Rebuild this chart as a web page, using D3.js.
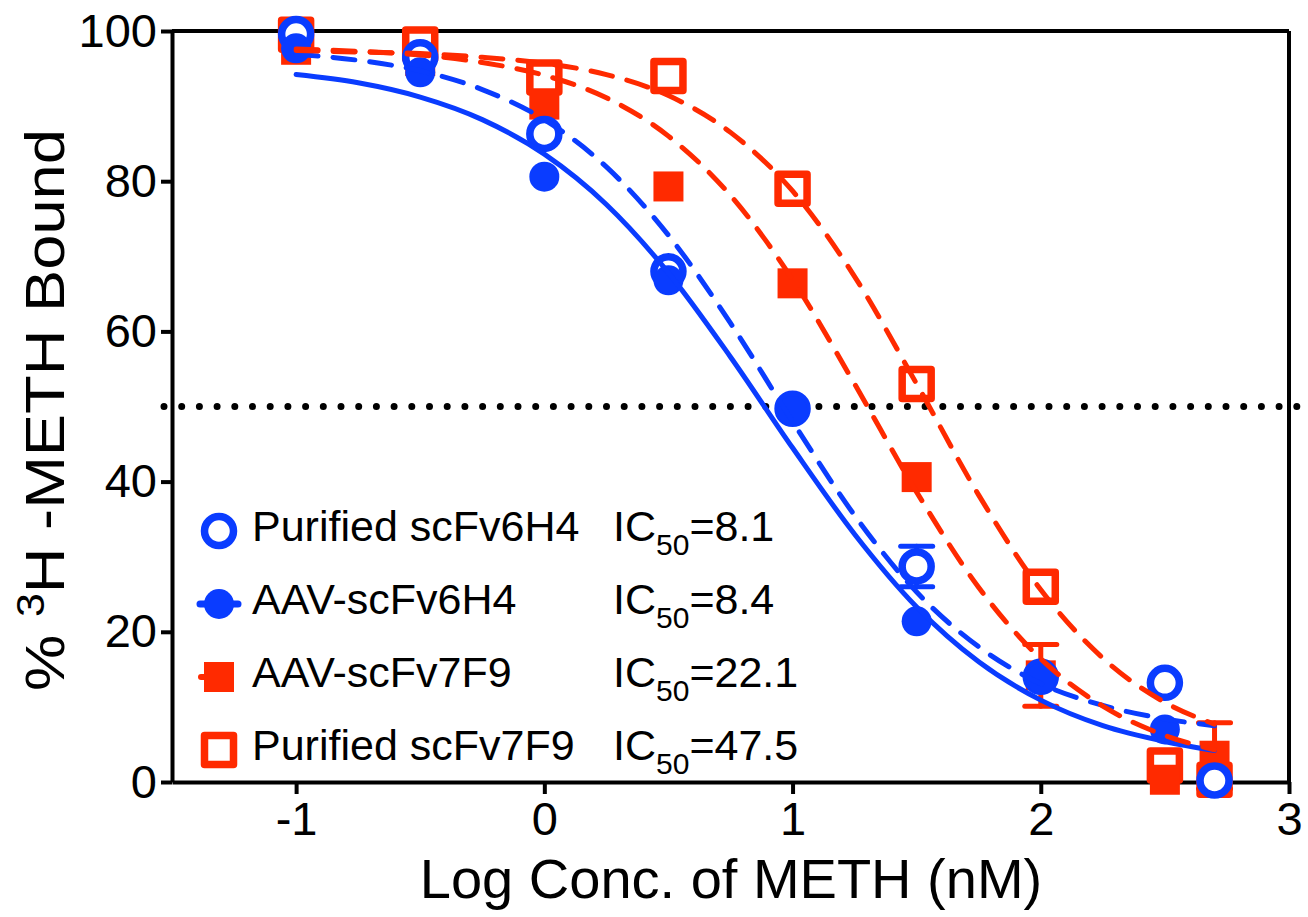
<!DOCTYPE html>
<html>
<head>
<meta charset="utf-8">
<script src="https://cdn.jsdelivr.net/npm/d3@7"></script>
<style>
  html, body { margin: 0; padding: 0; background: #fff; }
  svg { display: block; font-family: "Liberation Sans", Arial, Helvetica, sans-serif; }
</style>
</head>
<body>
<svg id="chart" width="1308" height="917"></svg>
<script>
// ---------- data ----------
const xTicks = [-1, 0, 1, 2, 3];
const yTicks = [0, 20, 40, 60, 80, 100];
const logConc = [-1, -0.5, 0, 0.5, 1, 1.5, 2, 2.5, 2.7];

const purified6H4 = [99.6, 96.5, 86.3, 68.0, 49.7, 28.7, 14.0, 13.2, 0.2];
const purified6H4Err = [0, 0, 0, 0, 0, 2.7, 0, 0, 0];
const aav6H4 = [97.7, 94.5, 80.6, 66.8, 49.4, 21.4, 13.8, 7.0, null];
const aav6H4Err = [0, 0, 0, 0, 0, 0, 0, 0, 0];
const aav7F9 = [97.5, 96.0, 90.2, 79.3, 66.4, 40.6, 14.2, 0.3, 3.5];
const aav7F9Err = [0, 0, 0, 0, 0, 0, 4.1, 0, 4.4];
const purified7F9 = [99.5, 98.2, 93.8, 94.0, 79.0, 53.0, 26.0, 2.2, 0.3];
const purified7F9Err = [0, 0, 0, 0, 0, 0, 0, 0, 0];

// fitted curves
const curveX = [-1, -0.75, -0.5, -0.25, 0, 0.25, 0.5, 0.75, 1, 1.25, 1.5, 1.75, 2, 2.25, 2.5, 2.7];
const fitPurified6H4 = [94.2, 93.1, 91.2, 88.2, 83.6, 76.9, 67.8, 56.6, 44.5, 33.0, 23.3, 16.0, 10.9, 7.5, 5.4, 4.2];
const fitAAV6H4 = [96.9, 96.1, 94.7, 92.2, 88.2, 81.9, 72.8, 61.1, 48.0, 35.5, 25.3, 18.0, 13.1, 10.2, 8.4, 7.5];
const fitAAV7F9 = [97.6, 97.3, 96.8, 95.8, 94.1, 91.1, 86.0, 78.1, 66.9, 53.0, 38.6, 25.9, 16.4, 10.1, 6.2, 4.3];
const fitPurified7F9 = [97.4, 97.2, 97.0, 96.5, 95.7, 94.2, 91.4, 86.5, 78.7, 67.3, 53.0, 38.2, 25.6, 16.5, 10.6, 7.7];

const referenceLevel = 50;

const legendNames = ["Purified scFv6H4", "AAV-scFv6H4", "AAV-scFv7F9", "Purified scFv7F9"];
const legendIC50 = ["8.1", "8.4", "22.1", "47.5"];

// ---------- styles ----------
const BLUE = "#0a3cff";
const RED = "#ff2a00";

const svg = d3.select("#chart");
const x = d3.scaleLinear().domain([-1.5, 3]).range([172, 1289]);
const y = d3.scaleLinear().domain([0, 100]).range([782, 31]);

// ---------- axes ----------
const xAxis = d3.axisBottom(x).tickValues(xTicks).tickSize(12).tickSizeOuter(0).tickPadding(8)
  .tickFormat(d => String(d));
const yAxis = d3.axisLeft(y).tickValues(yTicks).tickSize(11).tickSizeOuter(0).tickPadding(4)
  .tickFormat(d => String(d));

// frame top and right
svg.append("line").attr("x1", x(-1.5)).attr("x2", x(3)).attr("y1", y(100)).attr("y2", y(100))
  .attr("stroke", "#000").attr("stroke-width", 4);
svg.append("line").attr("x1", x(3)).attr("x2", x(3)).attr("y1", y(100)).attr("y2", y(0))
  .attr("stroke", "#000").attr("stroke-width", 4);

const gx = svg.append("g").attr("transform", `translate(0,${y(0)})`).call(xAxis);
const gy = svg.append("g").attr("transform", `translate(${x(-1.5)},0)`).call(yAxis);
[gx, gy].forEach(g => {
  g.select(".domain").attr("stroke", "#000").attr("stroke-width", 4);
  g.selectAll(".tick line").attr("stroke", "#000").attr("stroke-width", 4);
  g.selectAll(".tick text").attr("fill", "#000").attr("font-size", 47)
    .attr("font-family", '"Liberation Sans", Arial, sans-serif');
});

// dotted reference line at 50%
svg.append("line")
  .attr("x1", x(-1.5) - 8).attr("x2", x(3) + 8)
  .attr("y1", y(referenceLevel)).attr("y2", y(referenceLevel))
  .attr("stroke", "#000").attr("stroke-width", 7)
  .attr("stroke-linecap", "round").attr("stroke-dasharray", "0,17.7");

// ---------- markers ----------
const plot = svg.append("g");

function errorBars(vals, errs, color) {
  logConc.forEach((c, i) => {
    if (vals[i] == null || !errs[i]) return;
    const cx = x(c), top = y(vals[i] + errs[i]), bot = y(vals[i] - errs[i]);
    const g = plot.append("g").attr("stroke", color).attr("stroke-width", 5).attr("stroke-linecap", "round");
    g.append("line").attr("x1", cx).attr("x2", cx).attr("y1", top).attr("y2", bot);
    g.append("line").attr("x1", cx - 16).attr("x2", cx + 16).attr("y1", top).attr("y2", top);
    g.append("line").attr("x1", cx - 16).attr("x2", cx + 16).attr("y1", bot).attr("y2", bot);
  });
}

function pts(vals) {
  return logConc.map((c, i) => ({ c, v: vals[i] })).filter(d => d.v != null);
}

// purified 7F9 : open red square
errorBars(purified7F9, purified7F9Err, RED);
plot.selectAll(".p7").data(pts(purified7F9)).enter().append("rect")
  .attr("x", d => x(d.c) - 14.5).attr("y", d => y(d.v) - 14.5)
  .attr("width", 29).attr("height", 29)
  .attr("fill", "#fff").attr("stroke", RED).attr("stroke-width", 7.5).attr("stroke-linejoin", "round");

// AAV 7F9 : filled red square
errorBars(aav7F9, aav7F9Err, RED);
plot.selectAll(".a7").data(pts(aav7F9)).enter().append("rect")
  .attr("x", d => x(d.c) - 15).attr("y", d => y(d.v) - 15)
  .attr("width", 30).attr("height", 30).attr("fill", RED);

// purified 6H4 : open blue circle
errorBars(purified6H4, purified6H4Err, BLUE);
plot.selectAll(".p6").data(pts(purified6H4)).enter().append("circle")
  .attr("cx", d => x(d.c)).attr("cy", d => y(d.v)).attr("r", 14.5)
  .attr("fill", "#fff").attr("stroke", BLUE).attr("stroke-width", 7.5);

// AAV 6H4 : filled blue circle
errorBars(aav6H4, aav6H4Err, BLUE);
plot.selectAll(".a6").data(pts(aav6H4)).enter().append("circle")
  .attr("cx", d => x(d.c)).attr("cy", d => y(d.v)).attr("r", 15)
  .attr("fill", BLUE);

// ---------- fitted curves ----------
const line = d3.line().x(d => x(d.c)).y(d => y(d.v)).curve(d3.curveMonotoneX);
function curve(vals, color, dashed) {
  svg.append("path")
    .attr("d", line(curveX.map((c, i) => ({ c, v: vals[i] }))))
    .attr("fill", "none").attr("stroke", color).attr("stroke-width", 5)
    .attr("stroke-linecap", "round")
    .attr("stroke-dasharray", dashed ? "22,15" : null);
}
curve(fitPurified6H4, BLUE, false);
curve(fitAAV6H4, BLUE, true);
curve(fitAAV7F9, RED, true);
curve(fitPurified7F9, RED, true);

// ---------- legend ----------
const lg = svg.append("g");
const rowY = i => 531 + 73 * i;
const mx = 219;
// row 0: open circle
lg.append("circle").attr("cx", mx).attr("cy", rowY(0)).attr("r", 14.5)
  .attr("fill", "#fff").attr("stroke", BLUE).attr("stroke-width", 7.5);
// row 1: filled circle with line stubs
lg.append("line").attr("x1", mx - 19).attr("x2", mx + 19).attr("y1", rowY(1)).attr("y2", rowY(1))
  .attr("stroke", BLUE).attr("stroke-width", 7).attr("stroke-linecap", "round");
lg.append("circle").attr("cx", mx).attr("cy", rowY(1)).attr("r", 15).attr("fill", BLUE);
// row 2: filled square with line stub on the left
lg.append("line").attr("x1", mx - 18).attr("x2", mx).attr("y1", rowY(2)).attr("y2", rowY(2))
  .attr("stroke", RED).attr("stroke-width", 6).attr("stroke-linecap", "round");
lg.append("rect").attr("x", mx - 15).attr("y", rowY(2) - 15).attr("width", 30).attr("height", 30).attr("fill", RED);
// row 3: open square
lg.append("rect").attr("x", mx - 14.5).attr("y", rowY(3) - 14.5).attr("width", 29).attr("height", 29)
  .attr("fill", "#fff").attr("stroke", RED).attr("stroke-width", 7.5).attr("stroke-linejoin", "round");

legendNames.forEach((name, i) => {
  const base = 541 + 73 * i;
  lg.append("text").attr("x", 252).attr("y", base).attr("font-size", 43).attr("fill", "#000").text(name);
  const t = lg.append("text").attr("x", 613).attr("y", base).attr("font-size", 43).attr("fill", "#000");
  t.append("tspan").text("IC");
  t.append("tspan").attr("font-size", 30).attr("dy", 14).text("50");
  t.append("tspan").attr("dy", -14).text("=" + legendIC50[i]);
});

// ---------- axis titles ----------
svg.append("text").attr("x", 731).attr("y", 898).attr("text-anchor", "middle")
  .attr("font-size", 56).attr("fill", "#000").text("Log Conc. of METH (nM)");

const yt = svg.append("text").attr("transform", "translate(64,410) rotate(-90) scale(1.13,1)")
  .attr("text-anchor", "middle").attr("font-size", 56).attr("fill", "#000");
yt.append("tspan").text("% ");
yt.append("tspan").attr("font-size", 38).attr("dy", -20).text("3");
yt.append("tspan").attr("dy", 20).text("H -METH Bound");
</script>
</body>
</html>
